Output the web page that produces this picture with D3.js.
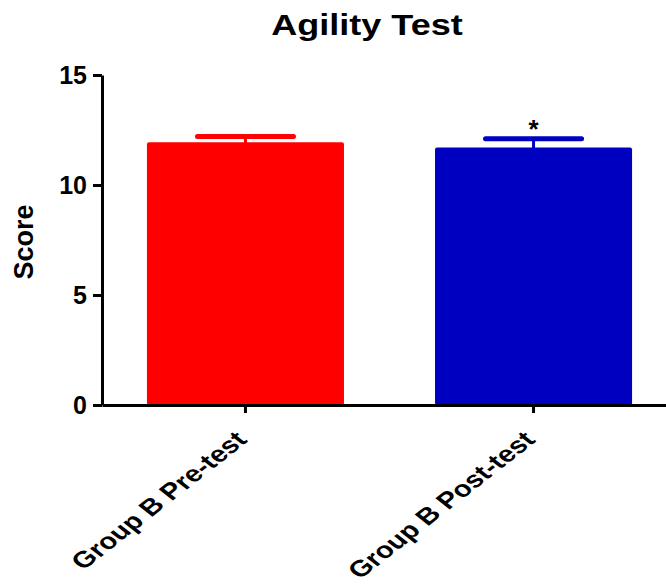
<!DOCTYPE html>
<html>
<head>
<meta charset="utf-8">
<script src="https://cdn.jsdelivr.net/npm/d3@7"></script>
<style>
  body { margin: 0; background: #fff; }
  svg { display: block; font-family: Arial, "Liberation Sans", sans-serif; }
</style>
</head>
<body>
<svg class="barChart" width="666" height="586"></svg>
<script>
var categories = ["Group B Pre-test", "Group B Post-test"];
var means = [11.94, 11.7];
var upperErr = [0.26, 0.4];
var barColors = ["#ff0000", "#0000c0"];
var marks = ["", "*"];
var yTicks = [0, 5, 10, 15];

var data = categories.map(function (c, i) {
    return { name: c, mean: means[i], err: upperErr[i], color: barColors[i], mark: marks[i] };
});

var svg = d3.select(".barChart");

var x = d3.scaleBand()
    .domain(categories)
    .range([102, 677])
    .paddingInner(0.316)
    .paddingOuter(0.156);

var y = d3.scaleLinear().domain([0, 15]).range([405, 75]);

// title (the original glyphs are a bit wide, so stretch them)
svg.append("g")
    .attr("transform", "translate(367,35) scale(1.2,1)")
    .append("text")
    .attr("text-anchor", "middle")
    .style("font-size", "30px")
    .style("font-weight", "bold")
    .text("Agility Test");

// y label
svg.append("text")
    .attr("transform", "translate(33,242) rotate(-90)")
    .attr("text-anchor", "middle")
    .style("font-size", "27px")
    .style("font-weight", "bold")
    .text("Score");

// bars
var g = svg.append("g");

g.selectAll(".bar")
    .data(data)
    .enter().append("rect")
    .attr("class", "bar")
    .attr("x", function (d) { return x(d.name); })
    .attr("y", function (d) { return y(d.mean); })
    .attr("width", x.bandwidth())
    .attr("height", function (d) { return y(0) - y(d.mean); })
    .attr("rx", 2)
    .attr("fill", function (d) { return d.color; });

// error bars (upper only)
g.selectAll(".stem")
    .data(data)
    .enter().append("line")
    .attr("x1", function (d) { return x(d.name) + x.bandwidth() / 2; })
    .attr("x2", function (d) { return x(d.name) + x.bandwidth() / 2; })
    .attr("y1", function (d) { return y(d.mean) + 1; })
    .attr("y2", function (d) { return y(d.mean + d.err); })
    .attr("stroke", function (d) { return d.color; })
    .attr("stroke-width", 3);

g.selectAll(".cap")
    .data(data)
    .enter().append("line")
    .attr("x1", function (d) { return x(d.name) + x.bandwidth() / 2 - 48; })
    .attr("x2", function (d) { return x(d.name) + x.bandwidth() / 2 + 48; })
    .attr("y1", function (d) { return y(d.mean + d.err); })
    .attr("y2", function (d) { return y(d.mean + d.err); })
    .attr("stroke", function (d) { return d.color; })
    .attr("stroke-width", 5)
    .attr("stroke-linecap", "round");

g.selectAll(".mark")
    .data(data)
    .enter().append("text")
    .attr("x", function (d) { return x(d.name) + x.bandwidth() / 2; })
    .attr("y", function (d) { return y(d.mean + d.err) - 1; })
    .attr("text-anchor", "middle")
    .style("font-size", "26px")
    .style("font-weight", "bold")
    .text(function (d) { return d.mark; });

// axes
var yAxis = svg.append("g")
    .attr("transform", "translate(102,0)")
    .call(d3.axisLeft(y).tickValues(yTicks).tickSize(9).tickPadding(6).tickSizeOuter(0));

var xAxis = svg.append("g")
    .attr("transform", "translate(0,405)")
    .call(d3.axisBottom(x).tickSize(8).tickSizeOuter(0));

svg.selectAll(".domain").attr("stroke", "#000").attr("stroke-width", 3);
svg.selectAll(".tick line").attr("stroke", "#000").attr("stroke-width", 3);

yAxis.selectAll("text")
    .attr("fill", "#000")
    .style("font-size", "25px")
    .style("font-weight", "bold")
    .style("font-family", "Arial, 'Liberation Sans', sans-serif");

xAxis.selectAll("text")
    .attr("fill", "#000")
    .style("font-size", "23px")
    .style("font-weight", "bold")
    .style("font-family", "Arial, 'Liberation Sans', sans-serif")
    .attr("text-anchor", "end")
    .attr("y", 0)
    .attr("dy", 0)
    .attr("transform", "translate(3,36) scale(1.27,1) rotate(-45)");
</script>
</body>
</html>
